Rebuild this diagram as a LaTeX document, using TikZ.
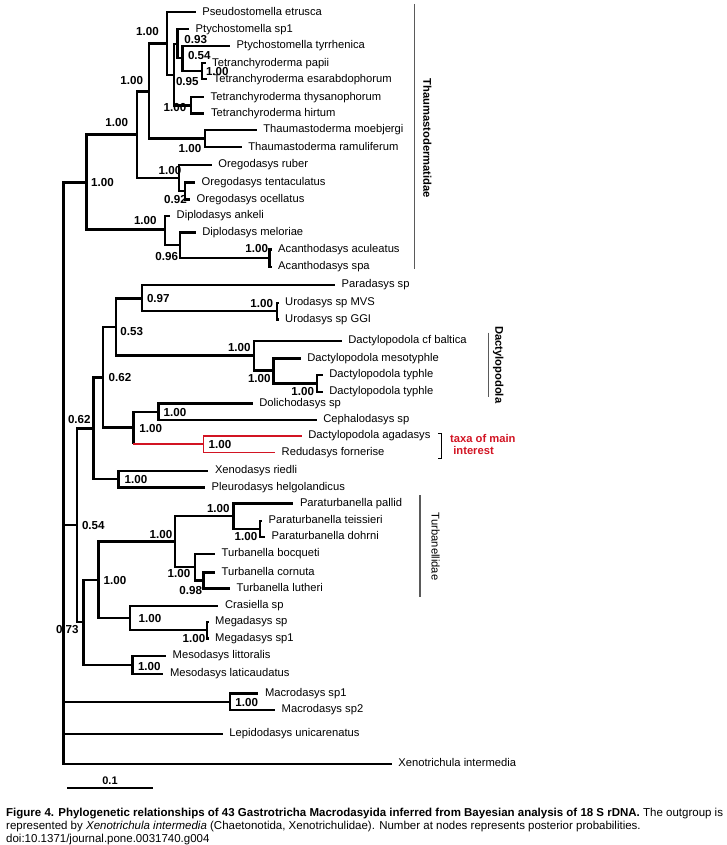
\documentclass[tikz,border=0pt]{standalone}
\usepackage{fontspec}
\setmainfont{Liberation Sans}
\usetikzlibrary{positioning,calc}
\definecolor{mainred}{RGB}{210,20,35}
\definecolor{bargray}{RGB}{90,90,90}

\begin{document}
\begin{tikzpicture}[x=1pt, y=-1pt,
    branch/.style={line width=2.4pt},
    redbranch/.style={line width=1.6pt, draw=mainred},
    taxon/.style={anchor=west, inner xsep=6.5pt, inner ysep=0pt, text height=8.3pt, text depth=2.4pt, font=\fontsize{11.2}{13}\selectfont},
    pp/.style={inner sep=0pt, font=\bfseries\fontsize{11.6}{13}\selectfont},
    cladebar/.style={line width=1.1pt, draw=bargray},
    cladename/.style={rotate=-90, inner sep=0pt, font=\fontsize{11.2}{13}\selectfont},
    captionline/.style={anchor=base west, inner sep=0pt, font=\fontsize{11.5}{13}\selectfont}]

    \useasboundingbox (0,0) rectangle (726,845);

    % Taxa (tip x, y, name)
    \foreach \n/\x/\y/\t in {pse/195.7/12.3/Pseudostomella etrusca,
        pty1/189/29.3/Ptychostomella sp1,
        pty2/230/46/Ptychostomella tyrrhenica,
        tpap/205.5/63.3/Tetranchyroderma papii,
        tesa/207/79.3/Tetranchyroderma esarabdophorum,
        tthy/204/97.3/Tetranchyroderma thysanophorum,
        thir/204.3/113.7/Tetranchyroderma hirtum,
        tmoe/256.7/130/Thaumastoderma moebjergi,
        tram/241.7/147.3/Thaumastoderma ramuliferum,
        orub/211.7/165/Oregodasys ruber,
        oten/195/182.3/Oregodasys tentaculatus,
        ooce/190/199.3/Oregodasys ocellatus,
        dank/170/216/Diplodasys ankeli,
        dmel/195.7/232.3/Diplodasys meloriae,
        aacu/271.5/249.3/Acanthodasys aculeatus,
        aspa/271.5/266.7/Acanthodasys spa,
        para/335/285/Paradasys sp,
        umvs/278.5/302.7/Urodasys sp MVS,
        uggi/278.5/319.3/Urodasys sp GGI,
        dbal/341.7/340.7/Dactylopodola cf baltica,
        dmes/300.7/358.3/Dactylopodola mesotyphle,
        dty1/322.7/375/Dactylopodola typhle,
        dty2/322.7/391.7/Dactylopodola typhle,
        doli/252.7/403.5/Dolichodasys sp,
        ceph/316.7/419.8/Cephalodasys sp,
        daga/301.7/436/Dactylopodola agadasys,
        rfor/275/452.3/Redudasys fornerise,
        xrie/208.3/470.7/Xenodasys riedli,
        phel/205/487.3/Pleurodasys helgolandicus,
        ppal/293.3/503.3/Paraturbanella pallid,
        ptei/262/520.7/Paraturbanella teissieri,
        pdoh/265/536.7/Paraturbanella dohrni,
        tboc/215/554/Turbanella bocqueti,
        tcor/215/572.3/Turbanella cornuta,
        tlut/230/588.3/Turbanella lutheri,
        cras/218.3/606/Crasiella sp,
        mega/208.5/621.7/Megadasys sp,
        meg1/208.5/638.3/Megadasys sp1,
        mlit/166/656/Mesodasys littoralis,
        mlat/163.3/674/Mesodasys laticaudatus,
        mac1/258.3/693.3/Macrodasys sp1,
        mac2/275/710/Macrodasys sp2,
        lepi/222.7/734/Lepidodasys unicarenatus,
        xeno/391.7/764/Xenotrichula intermedia} {
        \node[taxon] (\n) at (\x,\y) {\t};
    }

    % Internal nodes
    \coordinate (root) at (63.3,473);
    \coordinate (nTD) at (86.3,182.3);
    \coordinate (nTh) at (136.7,134.7);
    \coordinate (nA) at (149,91.5);
    \coordinate (nB) at (166.7,43.7);
    \coordinate (nC) at (174,75);
    \coordinate (nD) at (177.3,44);
    \coordinate (nE) at (182.3,58.3);
    \coordinate (nF) at (202,71.3);
    \coordinate (nH) at (191,105.5);
    \coordinate (nG) at (205,138.7);
    \coordinate (nO) at (179,178);
    \coordinate (nO2) at (185,190.8);
    \coordinate (nDi) at (165,229.3);
    \coordinate (nDi2) at (180,245.2);
    \coordinate (nAc) at (269.3,258);
    \coordinate (nX3) at (76.7,525);
    \coordinate (nX2) at (93.3,428.3);
    \coordinate (nX1) at (102.7,377.3);
    \coordinate (nPD) at (116,327.2);
    \coordinate (nP) at (141.7,298.3);
    \coordinate (nU) at (276.7,311);
    \coordinate (nDa) at (254,355.5);
    \coordinate (nDa2) at (273.3,370.5);
    \coordinate (nDa3) at (316.7,383.3);
    \coordinate (nDC) at (133.3,427.6);
    \coordinate (nDo) at (158.3,411.7);
    \coordinate (nR) at (203.3,444.2);
    \coordinate (nXP) at (118.3,479);
    \coordinate (nM) at (83.3,622);
    \coordinate (nTu) at (98.3,580);
    \coordinate (nTb) at (175,541.5);
    \coordinate (nPa) at (233.3,516);
    \coordinate (nPa2) at (260,528.7);
    \coordinate (nTb2) at (195,567.2);
    \coordinate (nTb3) at (203.3,580.3);
    \coordinate (nCr) at (130,618);
    \coordinate (nMg) at (206.7,630);
    \coordinate (nMe) at (132.5,665);
    \coordinate (nMa) at (230,701.7);

    % Branches
    \foreach \a/\b in {root/nTD, root/nX3, root/nMa, root/lepi, root/xeno,
        nTD/nTh, nTD/nDi, nTh/nA, nTh/nO, nA/nB, nA/nG, nB/pse, nB/nC,
        nC/nD, nC/nH, nD/pty1, nD/nE, nE/pty2, nE/nF, nF/tpap, nF/tesa,
        nH/tthy, nH/thir, nG/tmoe, nG/tram, nO/orub, nO/nO2, nO2/oten, nO2/ooce,
        nDi/dank, nDi/nDi2, nDi2/dmel, nDi2/nAc, nAc/aacu, nAc/aspa,
        nX3/nX2, nX3/nM, nX2/nX1, nX2/nXP, nX1/nPD, nX1/nDC,
        nPD/nP, nPD/nDa, nP/para, nP/nU, nU/umvs, nU/uggi,
        nDa/dbal, nDa/nDa2, nDa2/dmes, nDa2/nDa3, nDa3/dty1, nDa3/dty2,
        nDC/nDo, nDo/doli, nDo/ceph, nXP/xrie, nXP/phel,
        nM/nTu, nM/nMe, nTu/nTb, nTu/nCr, nTb/nPa, nTb/nTb2,
        nPa/ppal, nPa/nPa2, nPa2/ptei, nPa2/pdoh, nTb2/tboc, nTb2/nTb3,
        nTb3/tcor, nTb3/tlut, nCr/cras, nCr/nMg, nMg/mega, nMg/meg1,
        nMe/mlit, nMe/mlat, nMa/mac1, nMa/mac2} {
        \draw[branch] (\a) |- (\b);
    }
    % taxa of main interest
    \draw[branch] (nDC) -- (nDC |- nR);
    \draw[redbranch] (nDC |- nR) -- (nR);
    \draw[redbranch] (nR) |- (daga);
    \draw[redbranch] (nR) |- (rfor);

    % Posterior probabilities
    \foreach \n/\x/\y/\v in {p1/147.5/32/1.00, p2/195.7/39.3/0.93, p3/199.3/55.7/0.54,
        p4/217.3/71.5/1.00, p5/187.3/81.7/0.95, p6/131.7/81/1.00, p7/175/107.3/1.00,
        p8/116.7/122.3/1.00, p9/190/148.3/1.00, p10/102.5/183/1.00, p11/170/170.7/1.00,
        p12/175.5/199.3/0.92, p13/145.3/221/1.00, p14/166.7/256.7/0.96, p15/256.7/248.3/1.00,
        p16/158.3/298.3/0.97, p17/261.7/303.3/1.00, p18/131.7/331.7/0.53, p19/239.3/347.3/1.00,
        p20/259.3/378.3/1.00, p21/302.7/391.7/1.00, p22/120/377.3/0.62, p23/175/412.5/1.00,
        p24/150.7/429/1.00, p25/220/444.3/1.00, p26/79.3/419.3/0.62, p27/136/479.3/1.00,
        p28/93.3/526/0.54, p29/218.3/509/1.00, p30/246/536.7/1.00, p31/161/534.5/1.00,
        p32/179/574/1.00, p33/190.7/590/0.98, p34/115/580.7/1.00, p35/150/618.3/1.00,
        p36/194/638.3/1.00, p37/67.3/630/0.73, p38/149.3/666/1.00, p39/246.7/702.3/1.00} {
        \node[pp] (\n) at (\x,\y) {\v};
    }

    % Clade bars
    \coordinate (thTop) at (414.3,4);
    \coordinate (thBot) at (414.3,269.3);
    \draw[cladebar] (thTop) -- (thBot);
    \node[cladename, font=\bfseries\fontsize{11.2}{13}\selectfont] (thName) at (427.3,138.3) {Thaumastodermatidae};
    \coordinate (daTop) at (488.3,332.7);
    \coordinate (daBot) at (488.3,397.3);
    \draw[cladebar] (daTop) -- (daBot);
    \node[cladename, font=\bfseries\fontsize{11.2}{13}\selectfont] (daName) at (498.3,364.7) {Dactylopodola};
    \coordinate (tuTop) at (420,495);
    \coordinate (tuBot) at (420,596.7);
    \draw[cladebar] (tuTop) -- (tuBot);
    \node[cladename] (tuName) at (435.7,546.7) {Turbanellidae};

    % Bracket
    \coordinate (brTop) at (441.7,433.3);
    \coordinate (brBot) at (441.7,458.3);
    \draw[line width=1.3pt] ($(brTop)+(-3.5,0)$) -- (brTop) -- (brBot) -- ($(brBot)+(-3.5,0)$);
    \node[anchor=west, inner sep=0pt, align=left, text=mainred, font=\bfseries\fontsize{11.2}{12.4}\selectfont] (interest) at (450,444.5) {taxa of main\\\ interest};

    % Scale bar
    \coordinate (sbL) at (67.3,787.7);
    \coordinate (sbR) at (153.3,787.7);
    \draw[branch] (sbL) -- (sbR);
    \node[inner sep=0pt, font=\bfseries\fontsize{11}{13}\selectfont] (sbText) at (110,780.7) {0.1};

    % Caption
    \node[captionline] (cap1) at (6,816.5) {\textbf{Figure 4. Phylogenetic relationships of 43 Gastrotricha Macrodasyida inferred from Bayesian analysis of 18 S rDNA.} The outgroup is};
    \node[captionline] (cap2) at (6,829.5) {represented by \textit{Xenotrichula intermedia} (Chaetonotida, Xenotrichulidae). Number at nodes represents posterior probabilities.};
    \node[captionline] (cap3) at (6,842.5) {doi:10.1371/journal.pone.0031740.g004};
\end{tikzpicture}
\end{document}
